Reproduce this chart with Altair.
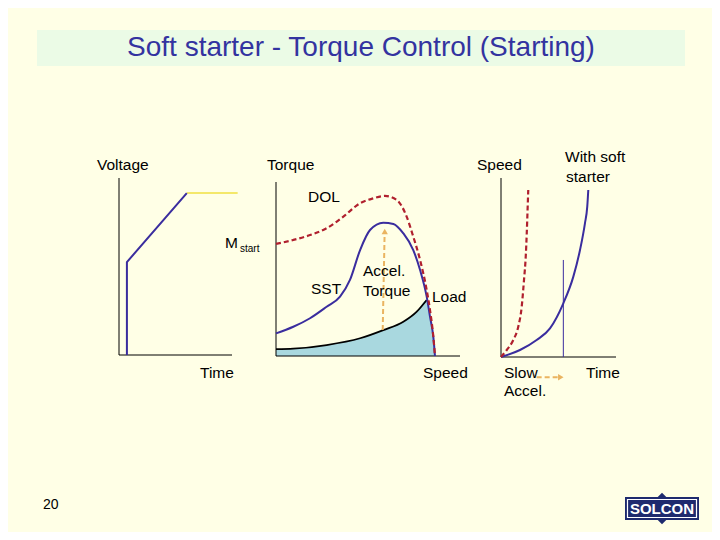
import altair as alt
import pandas as pd

# ---------------- data ----------------
# Panel 1: Voltage vs Time (arbitrary units 0-10)
volt_time = [0.7, 0.7, 6.0]
volt_value = [0.0, 5.25, 9.15]
full_time = [6.0, 10.5]
full_value = [9.15, 9.15]

# Panel 2: Torque vs Speed (% of range)
dol_speed = [0, 9.4, 18.5, 27.5, 36.6, 45.7, 52.9, 59.2, 65.6, 71.0, 74.6, 78.3, 81.9, 83.7, 85.5, 86.4]
dol_torque = [64.4, 66.7, 69.5, 73.4, 80.1, 87.8, 90.6, 92.0, 89.7, 80.1, 68.6, 55.2, 37.9, 26.4, 11.1, 0]
sst_speed = [0, 9.4, 18.5, 27.5, 34.8, 40.2, 45.7, 51.1, 58.3, 63.8, 69.2, 74.6, 78.3, 81.9, 83.7, 85.5, 86.4]
sst_torque = [13.0, 16.8, 21.7, 28.3, 34.1, 43.7, 60.9, 72.4, 76.6, 75.9, 70.5, 60.9, 49.4, 34.1, 22.6, 11.1, 0]
load_speed = [0, 9.4, 27.5, 45.7, 58.3, 69.2, 76.5, 81.9]
load_torque = [3.9, 4.2, 6.3, 10.2, 14.9, 19.7, 25.5, 32.2]
fill_speed = load_speed + [83.7, 85.5, 86.4]
fill_torque = load_torque + [22.6, 11.1, 0]
accel_speed = [58.0, 59.0]
accel_torque = [14.9, 69.0]

# Panel 3: Speed vs Time (% of range)
dol_time = [0, 5.0, 10.7, 15.0, 18.0, 20.0, 21.5, 22.4, 23.2, 23.7]
dol_spd = [0, 3.9, 9.5, 16.9, 28.1, 43.0, 56.0, 69.1, 84.0, 93.3]
ss_time = [0, 16.5, 31.0, 42.6, 54.2, 62.9, 68.7, 73.0, 75.0, 75.9]
ss_spd = [0, 3.9, 9.5, 16.0, 30.0, 44.9, 59.8, 74.7, 84.0, 93.3]
mark_time = [54.2, 54.2]
mark_spd = [0, 54.2]
slow_time = [31.0, 50.0]
slow_spd = [-11.3, -11.3]

TITLE = "Soft starter - Torque Control (Starting)"

# ---------------- styles ----------------
FONT = "Liberation Sans"
BLUE = "#3a2d9e"
RED = "#b0202e"
TAN = "#eab460"
BG = "#ffffe6"
OFF = 8  # page margin


def scale(domain, px_range):
    return alt.Scale(domain=domain, range=[p - OFF for p in px_range], nice=False, zero=False)


def df_xy(xs, ys):
    return pd.DataFrame({"x": xs, "y": ys, "i": list(range(len(xs)))})


def line(xs, ys, sx, sy, color, width, dash=None, smooth=False):
    kw = dict(color=color, strokeWidth=width, clip=False)
    if dash:
        kw["strokeDash"] = dash
    if smooth:
        kw["interpolate"] = "monotone"
    return alt.Chart(df_xy(xs, ys)).mark_line(**kw).encode(
        x=alt.X("x:Q", scale=sx, axis=None),
        y=alt.Y("y:Q", scale=sy, axis=None),
        order="i:Q",
    )


def axes(xmax, ymax, sx, sy):
    d = pd.DataFrame({"x": [0, 0], "x2": [0, xmax], "y": [0, 0], "y2": [ymax, 0]})
    return alt.Chart(d).mark_rule(color="black", strokeWidth=1).encode(
        x=alt.X("x:Q", scale=sx, axis=None), x2="x2:Q",
        y=alt.Y("y:Q", scale=sy, axis=None), y2="y2:Q",
    )


def head(x, y, sx, sy, shape):
    return alt.Chart(pd.DataFrame({"x": [x], "y": [y]})).mark_point(
        shape=shape, filled=True, color=TAN, size=40, opacity=1
    ).encode(x=alt.X("x:Q", scale=sx, axis=None), y=alt.Y("y:Q", scale=sy, axis=None))


# Panel 1
sx1 = scale([0, 10], [119, 232])
sy1 = scale([0, 10], [355, 178])
panel1 = alt.layer(
    axes(10, 10, sx1, sy1),
    line(full_time, full_value, sx1, sy1, "#f0e040", 1.5),
    line(volt_time, volt_value, sx1, sy1, BLUE, 2),
)

# Panel 2
sx2 = scale([0, 100], [276, 460])
sy2 = scale([0, 100], [356, 182])
fill_df = pd.DataFrame({"x": fill_speed, "y": fill_torque, "y0": [0] * len(fill_speed)})
area = alt.Chart(fill_df).mark_area(color="#a9d8df", opacity=1, interpolate="monotone").encode(
    x=alt.X("x:Q", scale=sx2, axis=None),
    y=alt.Y("y:Q", scale=sy2, axis=None),
    y2="y0:Q",
)
panel2 = alt.layer(
    area,
    axes(100, 100, sx2, sy2),
    line(load_speed, load_torque, sx2, sy2, "black", 1.8, smooth=True),
    line(accel_speed, accel_torque, sx2, sy2, TAN, 2, [5, 3]),
    head(59.1, 71.5, sx2, sy2, "triangle-up"),
    line(sst_speed, sst_torque, sx2, sy2, BLUE, 2, smooth=True),
    line(dol_speed, dol_torque, sx2, sy2, RED, 2.2, [5, 3], smooth=True),
)

# Panel 3
sx3 = scale([0, 100], [501, 616])
sy3 = scale([0, 100], [357, 178])
panel3 = alt.layer(
    axes(100, 100, sx3, sy3),
    line(mark_time, mark_spd, sx3, sy3, BLUE, 1),
    line(slow_time, slow_spd, sx3, sy3, TAN, 2, [5, 3]),
    head(52.0, -11.3, sx3, sy3, "triangle-right"),
    line(ss_time, ss_spd, sx3, sy3, BLUE, 2, smooth=True),
    line(dol_time, dol_spd, sx3, sy3, RED, 2.2, [5, 3], smooth=True),
)

# Page decorations (page pixel scale)
spx = scale([0, 720], [0, 720])
spy = scale([0, 540], [0, 540])


def rect(x, x2, y, y2, **kw):
    d = pd.DataFrame({"x": [x], "x2": [x2], "y": [y], "y2": [y2]})
    return alt.Chart(d).mark_rect(**kw).encode(
        x=alt.X("x:Q", scale=spx, axis=None), x2="x2:Q",
        y=alt.Y("y:Q", scale=spy, axis=None), y2="y2:Q",
    )


def texts(rows, size, color="black", weight="normal", align="left"):
    d = pd.DataFrame(rows, columns=["t", "x", "y"])
    return alt.Chart(d).mark_text(
        font=FONT, fontSize=size, color=color, fontWeight=weight,
        align=align, baseline="middle"
    ).encode(
        x=alt.X("x:Q", scale=spx, axis=None),
        y=alt.Y("y:Q", scale=spy, axis=None),
        text="t:N",
    )


band = rect(37, 685, 30, 66, color="#ebfbe6")
title = texts([(TITLE, 361, 48)], 28, color="#3333a0", align="center")

labels = texts([
    ("Voltage", 97, 165), ("Time", 200, 373),
    ("Torque", 267, 165), ("DOL", 308, 197), ("M", 225, 243),
    ("SST", 311, 289), ("Accel.", 363, 271), ("Torque", 363, 291),
    ("Load", 432, 297), ("Speed", 423, 373),
    ("Speed", 477, 165), ("With soft", 565, 157), ("starter", 566, 177),
    ("Slow", 504, 373), ("Accel.", 504, 391), ("Time", 586, 373),
], 15.5)
sub = texts([("start", 240, 249)], 10)
page_no = texts([("20", 43, 505)], 14)

diamond = alt.Chart(pd.DataFrame({"x": [662], "y": [508.5]})).mark_point(
    shape="diamond", filled=True, color="#1e2a6e", size=1000, opacity=1
).encode(x=alt.X("x:Q", scale=spx, axis=None), y=alt.Y("y:Q", scale=spy, axis=None))
logo_box = rect(625, 699, 497, 520, color="#1e2a6e")
logo_frame = rect(627.5, 696.5, 499.5, 517.5, fill=None, fillOpacity=0, stroke="white", strokeWidth=1.2)
logo_text = texts([("SOLCON", 662, 509)], 15, color="white", weight="bold", align="center")

chart = alt.layer(
    band, title, panel1, panel2, panel3, labels, sub, page_no,
    diamond, logo_box, logo_frame, logo_text,
).resolve_scale(x="independent", y="independent").properties(
    width=720 - 2 * OFF, height=540 - 2 * OFF, padding=0, autosize="none", background=BG
).configure_view(stroke=None)

chart.save("out.html", embed_options={"renderer": "svg", "actions": False})
